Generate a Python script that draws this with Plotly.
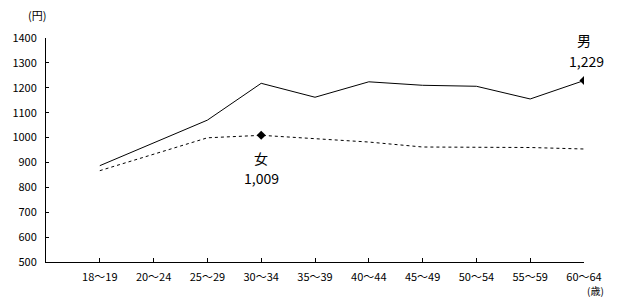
import plotly.graph_objects as go

ages = ["18～19", "20～24", "25～29", "30～34", "35～39", "40～44", "45～49", "50～54", "55～59", "60～64"]
male = [887, 979, 1070, 1218, 1162, 1224, 1210, 1206, 1155, 1229]
female = [867, 933, 999, 1009, 995, 982, 962, 961, 960, 954]
y_ticks = [500, 600, 700, 800, 900, 1000, 1100, 1200, 1300, 1400]

x = list(range(len(ages)))
FONT = "Noto Sans CJK JP"

fig = go.Figure()
fig.add_trace(go.Scatter(x=x, y=male, mode="lines", line=dict(color="black", width=1), showlegend=False))
fig.add_trace(go.Scatter(x=x, y=female, mode="lines", line=dict(color="black", width=1, dash="3px,3px"), showlegend=False))

mi = 9
fi = 3
fig.add_trace(go.Scatter(x=[x[mi]], y=[male[mi]], mode="markers",
                         marker=dict(symbol="diamond", size=7, color="black"), showlegend=False))
fig.add_trace(go.Scatter(x=[x[fi]], y=[female[fi]], mode="markers",
                         marker=dict(symbol="diamond", size=7, color="black"), showlegend=False))

def label(xv, yv, text, shift, xs=0):
    fig.add_annotation(x=xv, y=yv, text=text, showarrow=False, yanchor="middle", xanchor="center",
                       yshift=shift, xshift=xs, font=dict(family=FONT, size=14, color="black"))

label(x[mi], male[mi], "男", 41)
label(x[mi], male[mi], f"{male[mi]:,}", 20, 2)
label(x[fi], female[fi], "女", -23)
label(x[fi], female[fi], f"{female[fi]:,}", -43)

fig.add_annotation(xref="paper", yref="paper", x=-0.017, y=1.0, yshift=23, text="(円)",
                   showarrow=False, xanchor="center", yanchor="middle",
                   font=dict(family=FONT, size=11, color="black"))
fig.add_annotation(xref="paper", yref="paper", x=1.0, y=0, yshift=-28, xshift=11, text="(歳)",
                   showarrow=False, xanchor="center", yanchor="middle", borderpad=0,
                   font=dict(family=FONT, size=10, color="black"))

fig.update_xaxes(range=[-1, 9], tickvals=x, ticktext=ages, showline=True, linecolor="black",
                 linewidth=1, ticks="inside", ticklen=4, tickcolor="black", showgrid=False,
                 zeroline=False, ticklabelstandoff=5,
                 tickfont=dict(family=FONT, size=11, color="black"))
fig.update_yaxes(range=[500, 1400], tickvals=y_ticks, showline=True, linecolor="black",
                 linewidth=1, ticks="inside", ticklen=3, tickcolor="black", showgrid=False,
                 zeroline=False, ticklabelstandoff=6,
                 tickfont=dict(family=FONT, size=11, color="black"))

fig.update_layout(width=618, height=299, margin=dict(l=44, r=34, t=38, b=37),
                  plot_bgcolor="white", paper_bgcolor="white")

fig.write_html("out.html")
